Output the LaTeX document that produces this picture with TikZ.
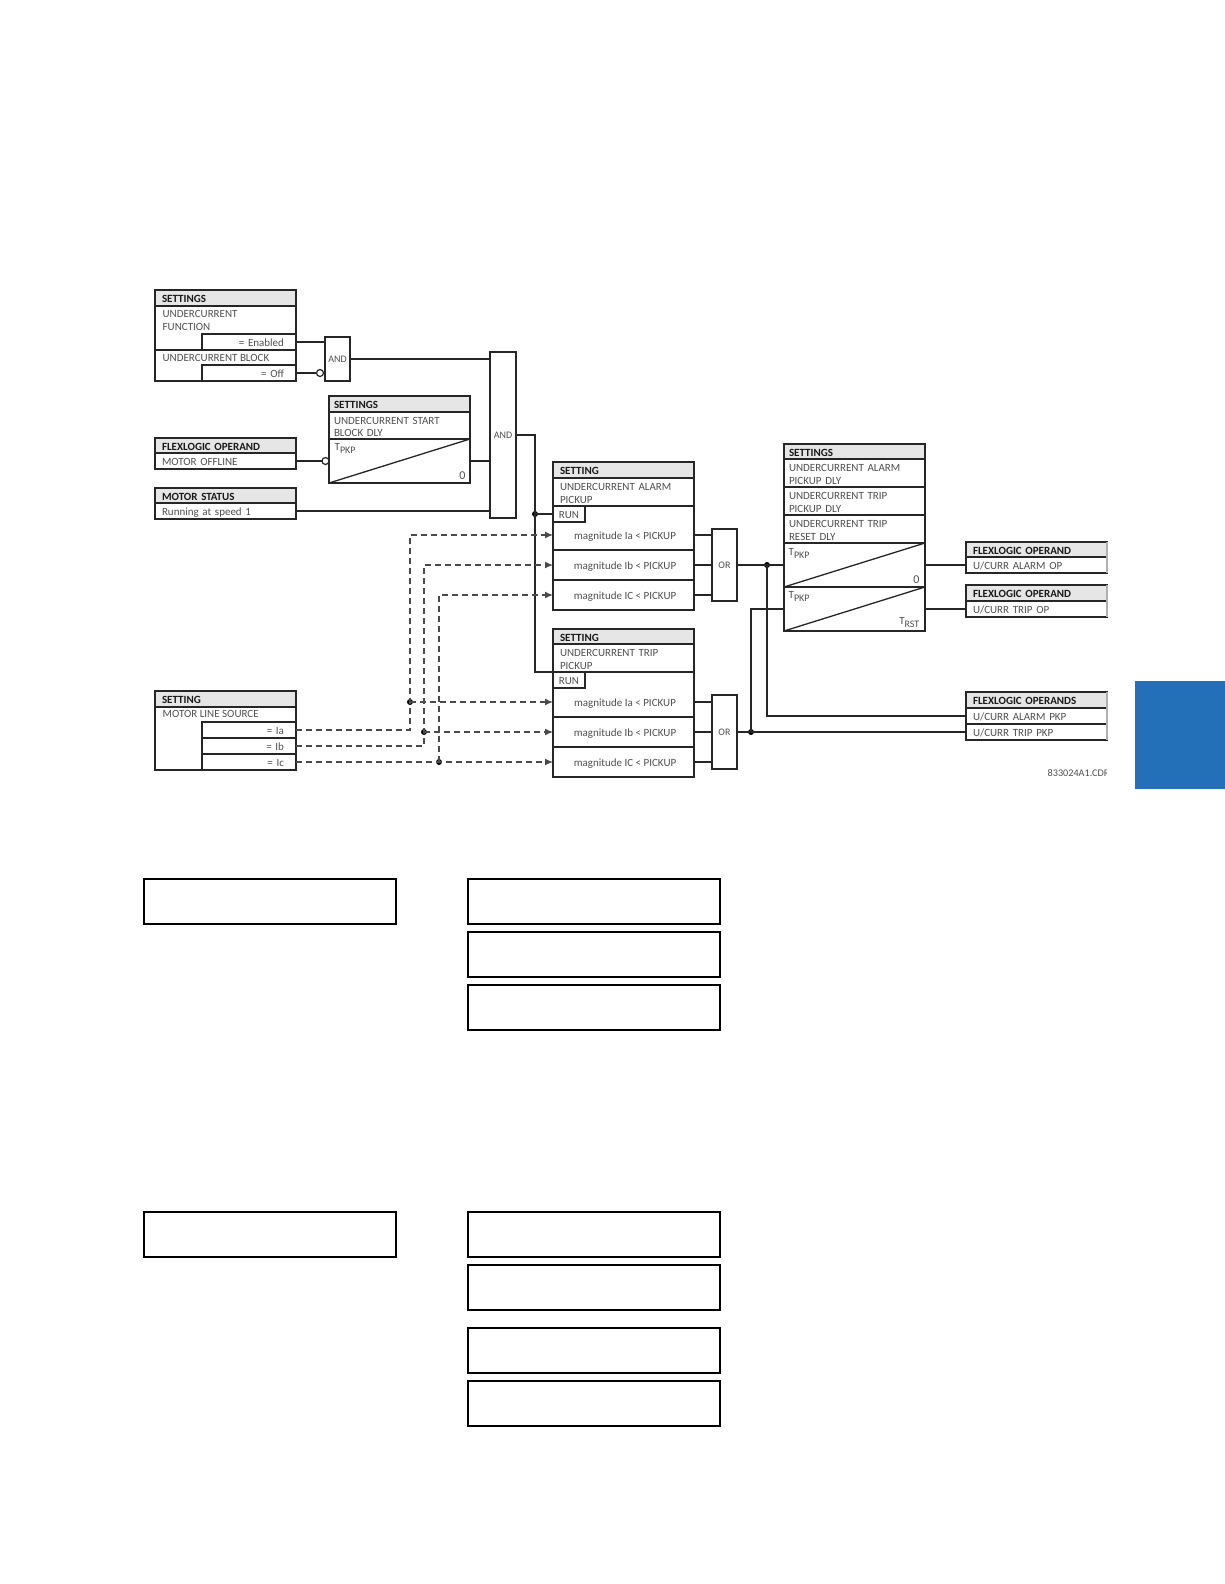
\documentclass[tikz,border=0pt]{standalone}
\usepackage{fontspec}
\setmainfont{Carlito}
\usetikzlibrary{arrows.meta, positioning, calc}
\definecolor{linedk}{HTML}{262626}
\definecolor{txtgray}{HTML}{505050}
\definecolor{hdgray}{HTML}{E6E6E6}
\definecolor{dashgray}{HTML}{4A4A4A}
\definecolor{edgegray}{HTML}{B0B0B0}
\definecolor{tabblue}{HTML}{2470B8}
\newcommand{\tsub}[1]{T\raisebox{-2.5pt}{\fontsize{10}{10}\selectfont #1}}

\begin{document}
\begin{tikzpicture}[x=1pt, y=-1pt, line width=1.3pt,
  rowbox/.style={draw=linedk, line width=1.3pt, anchor=north west, outer sep=0pt,
                 inner ysep=0pt, inner xsep=7pt, text width=127pt, align=left,
                 minimum height=#1, text=txtgray, font=\fontsize{11}{12.5}\selectfont,
                 execute at begin node={\rule{0pt}{10pt}}},
  hdbox/.style={rowbox=#1, fill=hdgray, text=black!90, font=\fontsize{11}{12.5}\selectfont\bfseries},
  hdbox/.default=16,
  subbox/.style={rowbox=16, inner xsep=12pt, text width=70pt, align=right},
  runbox/.style={rowbox=16, inner xsep=0pt, text width=32pt, align=center},
  tightpad/.style={inner xsep=5pt, text width=131pt},
  rowtext/.style={anchor=north west, inner sep=0pt, align=left, text=txtgray,
                  font=\fontsize{11}{12.5}\selectfont},
  cmptext/.style={inner sep=0pt, text=txtgray, font=\fontsize{11}{12.5}\selectfont,
                  execute at begin node={\rule{0pt}{10pt}}},
  gate/.style={draw=linedk, line width=1.3pt, anchor=north west, outer sep=0pt, inner sep=0pt,
               minimum width=#1, text=txtgray, font=\fontsize{10}{11}\selectfont},
  wire/.style={draw=linedk, line width=1.3pt},
  dashwire/.style={draw=dashgray, line width=1.3pt, dash pattern=on 6pt off 4pt},
  sigarrow/.style={dashwire, -{Latex[length=8pt, width=7pt]}},
  dotnode/.style={circle, fill=black, inner sep=0pt, minimum size=6pt, outer sep=0pt},
  negnode/.style={circle, draw=linedk, fill=white, line width=1.2pt, inner sep=0pt, minimum size=7pt, outer sep=0pt},
  emptybox/.style={draw=black, line width=1.8pt, anchor=north west, outer sep=0pt, inner sep=0pt,
                   minimum width=#1}]

% Background
\useasboundingbox (0,0) rectangle (1224,1584);
\fill[white] (0,0) rectangle (1224,1584);
\node[fill=tabblue, anchor=north west, inner sep=0pt, minimum width=90pt, minimum height=108pt] (tab) at (1134,680) {};

% =========== INPUT BLOCKS ===========
\node[hdbox] (fnhd) at (155,290) {SETTINGS};
\node[rowbox=44] (fnbody) at (155,306) {};
\node[rowtext] (fnlabel) at (162,310) {UNDERCURRENT\\FUNCTION};
\node[subbox] (fnon) at (202,334) {= Enabled};
\node[rowbox=31] (blkbody) at (155,350) {};
\node[rowtext] (blklabel) at (162,354) {UNDERCURRENT BLOCK};
\node[subbox] (blkoff) at (202,365) {= Off};

\node[hdbox=15] (offhd) at (155,438) {FLEXLOGIC OPERAND};
\node[rowbox=16] (offrow) at (155,453) {MOTOR OFFLINE};

\node[hdbox=15] (stathd) at (155,488) {MOTOR STATUS};
\node[rowbox=16] (statrow) at (155,503) {Running at speed 1};

\node[hdbox] (srchd) at (155,691) {SETTING};
\node[rowbox=63] (srcbody) at (155,707) {};
\node[rowtext] (srclabel) at (162,710) {MOTOR LINE SOURCE};
\node[subbox] (srcIa) at (202,722) {= Ia};
\node[subbox] (srcIb) at (202,738) {= Ib};
\node[subbox] (srcIc) at (202,754) {= Ic};

% Start block delay
\node[hdbox, tightpad] (dlyhd) at (329,396) {SETTINGS};
\node[rowbox=27, tightpad] (dlyset) at (329,412) {UNDERCURRENT START\\BLOCK DLY};
\node[rowbox=44, tightpad] (dly) at (329,439) {};
\draw[wire] (dly.south west) -- (dly.north east);
\node[rowtext, anchor=north west] (dlyt) at (334,443) {\tsub{PKP}};
\node[rowtext, anchor=south east, font=\fontsize{12}{12}\selectfont] (dlyz) at (466,480) {0};

% =========== AND GATES ===========
\node[gate=25pt, minimum height=44pt] (andfn) at (325,337) {AND};
\node[gate=26pt, minimum height=166pt] (andrun) at (490,352) {AND};
\node[negnode] (negblk) at (320,373) {};
\node[negnode] (negoff) at (325.5,461) {};

\draw[wire] (fnon.east) -- (fnon.east -| andfn.west);
\draw[wire] (blkoff.east) -- (negblk.west);
\draw[wire] (offrow.east) -- (negoff.west);
\draw[wire] (andfn.east) -- (andfn.east -| andrun.west);
\draw[wire] (dly.east) -- (dly.east -| andrun.west);
\draw[wire] (statrow.east) -- (statrow.east -| andrun.west);

% =========== ALARM PICKUP ===========
\node[hdbox] (alhd) at (553,462) {SETTING};
\node[rowbox=28] (alset) at (553,478) {UNDERCURRENT ALARM\\PICKUP};
\node[rowbox=44] (alIa) at (553,506) {};
\node[cmptext] (alcmpa) at (625,535) {magnitude Ia < PICKUP};
\node[runbox] (alrun) at (553,506) {RUN};
\node[rowbox=30] (alIb) at (553,550) {};
\node[cmptext] (alcmpb) at (625,565) {magnitude Ib < PICKUP};
\node[rowbox=30] (alIc) at (553,580) {};
\node[cmptext] (alcmpc) at (625,595) {magnitude IC < PICKUP};
\node[gate=25pt, minimum height=72pt] (oral) at (712,529) {OR};

% =========== TRIP PICKUP ===========
\node[hdbox=15] (trhd) at (553,629) {SETTING};
\node[rowbox=28] (trset) at (553,644) {UNDERCURRENT TRIP\\PICKUP};
\node[rowbox=45] (trIa) at (553,672) {};
\node[cmptext] (trcmpa) at (625,702) {magnitude Ia < PICKUP};
\node[runbox] (trrun) at (553,672) {RUN};
\node[rowbox=30] (trIb) at (553,717) {};
\node[cmptext] (trcmpb) at (625,732) {magnitude Ib < PICKUP};
\node[rowbox=30] (trIc) at (553,747) {};
\node[cmptext] (trcmpc) at (625,762) {magnitude IC < PICKUP};
\node[gate=25pt, minimum height=74pt] (ortr) at (712,695) {OR};

% Run supervision
\node[dotnode] (dotrun) at (535,514) {};
\draw[wire] (andrun.east) -| (dotrun.center) |- (trrun.north west);
\draw[wire] (dotrun.center) -- (alrun.west);

% Phase signals
\node[dotnode] (dota) at (410,702) {};
\node[dotnode] (dotb) at (424,732) {};
\node[dotnode] (dotc) at (439,762) {};

\draw[sigarrow] (srcIa.east) -| (dota.center) |- (alcmpa -| alIa.west);
\draw[sigarrow] (srcIb.east) -| (dotb.center) |- (alIb.west);
\draw[sigarrow] (dotc.center) |- (alIc.west);
\draw[sigarrow] (dota.center) -- (trcmpa -| trIa.west);
\draw[sigarrow] (dotb.center) -- (trIb.west);
\draw[sigarrow] (srcIc.east) -- (trIc.west);

% Comparators into OR gates
\draw[wire] (alcmpa -| alIa.east) -- (alcmpa -| oral.west);
\draw[wire] (alIb.east) -- (alIb.east -| oral.west);
\draw[wire] (alIc.east) -- (alIc.east -| oral.west);
\draw[wire] (trcmpa -| trIa.east) -- (trcmpa -| ortr.west);
\draw[wire] (trIb.east) -- (trIb.east -| ortr.west);
\draw[wire] (trIc.east) -- (trIc.east -| ortr.west);

% =========== OUTPUT TIMERS ===========
\node[hdbox=15, tightpad] (tmhd) at (784,444) {SETTINGS};
\node[rowbox=28, tightpad] (tmalp) at (784,459) {UNDERCURRENT ALARM\\PICKUP DLY};
\node[rowbox=28, tightpad] (tmtrp) at (784,487) {UNDERCURRENT TRIP\\PICKUP DLY};
\node[rowbox=28, tightpad] (tmtrr) at (784,515) {UNDERCURRENT TRIP\\RESET DLY};
\node[rowbox=44, tightpad] (tmral) at (784,543) {};
\node[rowbox=44, tightpad] (tmrtr) at (784,587) {};
\draw[wire] (tmral.south west) -- (tmral.north east);
\draw[wire] (tmrtr.south west) -- (tmrtr.north east);
\node[rowtext] (tmralt) at (788,548) {\tsub{PKP}};
\node[rowtext, anchor=south east, font=\fontsize{12}{12}\selectfont] (tmralz) at (920,584) {0};
\node[rowtext] (tmrtrt) at (788,591) {\tsub{PKP}};
\node[rowtext, anchor=south east] (tmrtrz) at (920,628) {\tsub{RST}};

% =========== FLEXLOGIC OUTPUTS ===========
\node[hdbox=15] (ophdA) at (966,542) {FLEXLOGIC OPERAND};
\node[rowbox=16] (opal) at (966,557) {U/CURR ALARM OP};
\node[hdbox] (ophdB) at (966,585) {FLEXLOGIC OPERAND};
\node[rowbox=16] (optr) at (966,601) {U/CURR TRIP OP};
\node[hdbox=16] (ophdC) at (966,692) {FLEXLOGIC OPERANDS};
\node[rowbox=16] (pkal) at (966,708) {U/CURR ALARM PKP};
\node[rowbox=16] (pktr) at (966,724) {U/CURR TRIP PKP};

% right edges of these blocks fade out
\draw[edgegray, line width=1.6pt] (ophdA.north east) -- (opal.south east);
\draw[edgegray, line width=1.6pt] (ophdB.north east) -- (optr.south east);
\draw[edgegray, line width=1.6pt] (ophdC.north east) -- (pktr.south east);

\node[dotnode] (dotal) at (767,565) {};
\node[dotnode] (dottr) at (751,732) {};

\draw[wire] (oral.east) -- (tmral.west);
\draw[wire] (ortr.east) -- (pktr.west);
\draw[wire] (dotal.center) |- (pkal.west);
\draw[wire] (dottr.center) |- (tmrtr.west);
\draw[wire] (tmral.east) -- (opal.west);
\draw[wire] (tmrtr.east) -- (optr.west);

% Drawing number, cut off at the figure edge
\begin{scope}
\clip (1040,762) rectangle (1106,786);
\node[rowtext, anchor=west, font=\fontsize{10.2}{12}\selectfont] (dwgno) at (1047,773.5) {833024A1.CDR};
\end{scope}

% =========== EMPTY SETTING BOXES ===========
\node[emptybox=252pt, minimum height=45pt] (boxa) at (144,879) {};
\node[emptybox=252pt, minimum height=45pt] (boxb) at (468,879) {};
\node[emptybox=252pt, minimum height=45pt] (boxc) at (468,932) {};
\node[emptybox=252pt, minimum height=45pt] (boxd) at (468,985) {};

\node[emptybox=252pt, minimum height=45pt] (boxe) at (144,1212) {};
\node[emptybox=252pt, minimum height=45pt] (boxf) at (468,1212) {};
\node[emptybox=252pt, minimum height=45pt] (boxg) at (468,1265) {};
\node[emptybox=252pt, minimum height=45pt] (boxh) at (468,1328) {};
\node[emptybox=252pt, minimum height=45pt] (boxi) at (468,1381) {};

\end{tikzpicture}
\end{document}
